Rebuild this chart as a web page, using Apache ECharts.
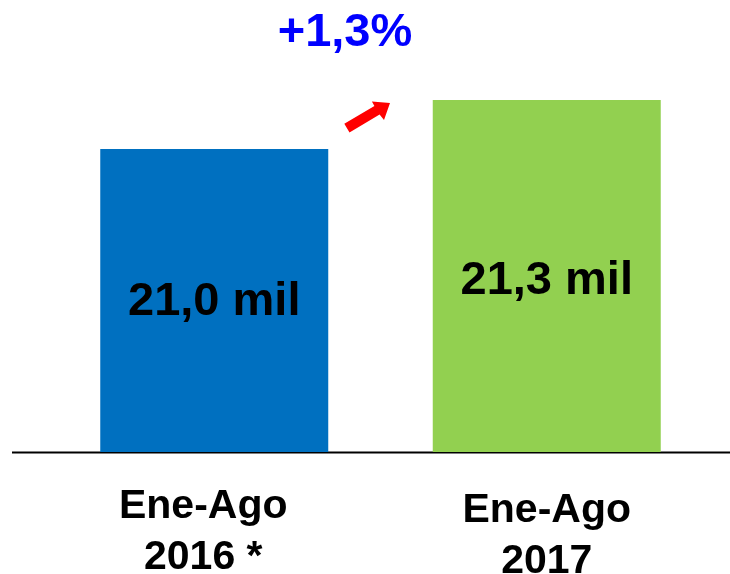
<!DOCTYPE html>
<html>
<head>
<meta charset="utf-8">
<script src="https://cdn.jsdelivr.net/npm/echarts@6/dist/echarts.min.js"></script>
<style>
	html, body { margin: 0; padding: 0; background: #fff; }
	#chart { width: 730px; height: 574px; }
</style>
</head>
<body>
<div id="chart"></div>
<script>
	// datos
	const categories = ['Ene-Ago\n2016 *', 'Ene-Ago\n2017']
	const values = [21.0, 21.3]
	const valueLabels = ['21,0 mil', '21,3 mil']
	const barColors = ['#0070C0', '#92D050']
	const changeText = '+1,3%'

	const font = "'Liberation Sans', Arial, sans-serif"
	let myChart = echarts.init(document.getElementById('chart'))

	myChart.setOption({
		animation: false,
		grid: {
			left: 48,
			right: 17,
			top: 100,
			bottom: 122,
			containLabel: false,
			outerBoundsMode: 'none'
		},
		xAxis: {
			type: 'category',
			data: categories.map((c, i) => ({
				value: c,
				textStyle: i === 0 ? { padding: [0, 22, 0, 0] } : { padding: [4, 0, 0, 0] }
			})),
			axisLine: { show: false },
			axisTick: { show: false },
			axisLabel: {
				margin: 29,
				color: '#000',
				fontSize: 41,
				fontWeight: 'bold',
				fontFamily: font,
				lineHeight: 51,
				verticalAlign: 'top'
			}
		},
		yAxis: {
			type: 'value',
			min: 19.14,
			max: 21.3,
			show: false,
			splitLine: { show: false }
		},
		series: [{
			type: 'bar',
			barWidth: 228,
			data: values.map((v, i) => ({
				value: v,
				itemStyle: { color: barColors[i] },
				label: { offset: i === 0 ? [0, 2] : [0, 5] }
			})),
			label: {
				show: true,
				position: 'inside',
				color: '#000',
				fontSize: 47,
				fontWeight: 'bold',
				fontFamily: font,
				formatter: p => valueLabels[p.dataIndex]
			}
		}],
		graphic: [
			{
				// linea base
				type: 'line',
				shape: { x1: 12, y1: 452.5, x2: 730, y2: 452.5 },
				style: { stroke: '#000', lineWidth: 2 }
			},
			{
				type: 'text',
				style: {
					text: changeText,
					x: 345,
					y: 33,
					align: 'center',
					verticalAlign: 'middle',
					fill: '#0000FF',
					font: 'bold 47px ' + font
				}
			},
			{
				// flecha roja
				type: 'polygon',
				shape: {
					points: [[349.5, 132.4], [344.3, 123.8], [374.4, 105.9], [371.9, 101.6],
						[390, 103], [384, 120], [379.6, 114.5]]
				},
				style: { fill: '#FF0000' }
			}
		]
	})
</script>
</body>
</html>
